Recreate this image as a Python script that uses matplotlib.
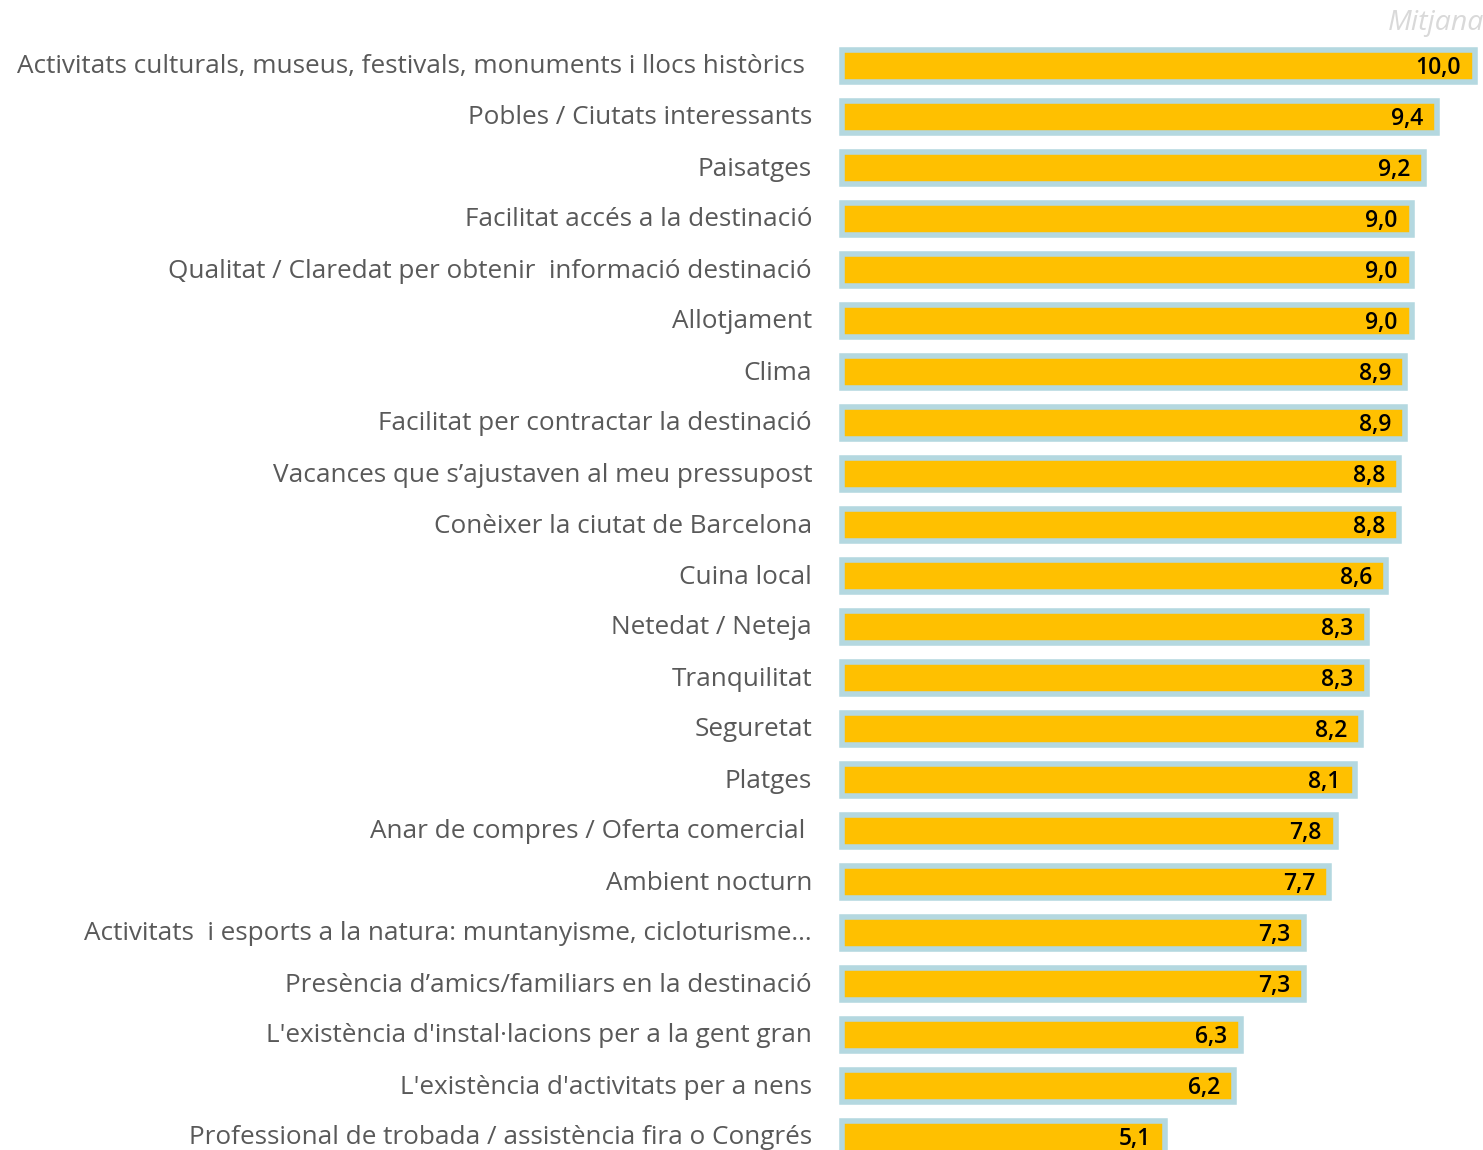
import matplotlib
matplotlib.use("Agg")
import matplotlib.pyplot as plt

categories = [
    "Activitats culturals, museus, festivals, monuments i llocs històrics ",
    "Pobles / Ciutats interessants",
    "Paisatges",
    "Facilitat accés a la destinació",
    "Qualitat / Claredat per obtenir  informació destinació",
    "Allotjament",
    "Clima",
    "Facilitat per contractar la destinació",
    "Vacances que s\u2019ajustaven al meu pressupost",
    "Conèixer la ciutat de Barcelona",
    "Cuina local",
    "Netedat / Neteja",
    "Tranquilitat",
    "Seguretat",
    "Platges",
    "Anar de compres / Oferta comercial ",
    "Ambient nocturn",
    "Activitats  i esports a la natura: muntanyisme, cicloturisme...",
    "Presència d\u2019amics/familiars en la destinació",
    "L'existència d'instal·lacions per a la gent gran",
    "L'existència d'activitats per a nens",
    "Professional de trobada / assistència fira o Congrés",
]
values = [10.0, 9.4, 9.2, 9.0, 9.0, 9.0, 8.9, 8.9, 8.8, 8.8, 8.6, 8.3, 8.3, 8.2, 8.1, 7.8, 7.7, 7.3, 7.3, 6.3, 6.2, 5.1]
legend_label = "Mitjana"

W, H = 1483, 1150
DPI = 100
fig = plt.figure(figsize=(W / DPI, H / DPI), dpi=DPI)

# axes geometry in pixels
x0_px = 842
scale = 63.3  # px per unit
xmax = (W - x0_px) / scale
top_px = 40
row0 = 66
step = 51
ax = fig.add_axes([x0_px / W, 0, (W - x0_px) / W, (H - top_px) / H])
ylo = (top_px - row0) / step
yhi = (H - row0) / step
ax.set_ylim(yhi, ylo)
ax.set_xlim(0, xmax)
ax.axis("off")

ypos = list(range(len(values)))
ax.barh(ypos, values, height=0.62, color="#FFC000", edgecolor="#B4D8E0",
        linewidth=4.0, clip_on=False, zorder=2)

font = "Open Sans"
for y, v, lab in zip(ypos, values, categories):
    ax.annotate(f"{v:.1f}".replace(".", ","), xy=(v, y), xytext=(-14, -2),
                textcoords="offset pixels", ha="right", va="center",
                fontsize=16.5, color="black", family=font, fontweight="semibold",
                annotation_clip=False, zorder=3)
    fig.text(812 / W, 1 - (row0 + step * y + 1) / H, lab, ha="right", va="center",
             fontsize=18.8, color="#595959", family=font)

fig.text(1388 / W, 1 - 23 / H, legend_label, ha="left", va="center",
         fontsize=20.5, color="#D9D9D9", family=font, style="italic")

fig.savefig("out.png", dpi=DPI)
